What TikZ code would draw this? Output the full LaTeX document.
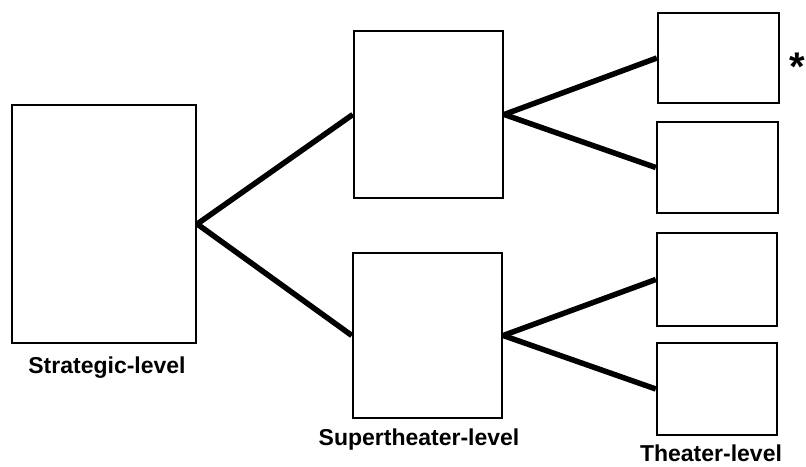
\documentclass[tikz,border=0pt]{standalone}
\usepackage{fontspec}
\setmainfont{Liberation Sans}
\begin{document}
\begin{tikzpicture}[x=1pt,y=-1pt,
  levelbox/.style={draw, line width=2.4pt, inner sep=0pt},
  link/.style={line width=5.5pt},
  levellabel/.style={anchor=base, inner sep=0pt, font=\fontsize{23}{25}\selectfont\bfseries}]
  \useasboundingbox (0,0) rectangle (806,466);

  % strategic level
  \node[levelbox, minimum width=184pt, minimum height=238pt] (strat) at (104,224) {};

  % supertheater level
  \node[levelbox, minimum width=149pt, minimum height=167pt] (supA) at (428.5,114.5) {};
  \node[levelbox, minimum width=149pt, minimum height=165pt] (supB) at (427.5,335.5) {};

  % theater level
  \node[levelbox, minimum width=121pt, minimum height=90pt] (thA) at (718.5,58) {};
  \node[levelbox, minimum width=121pt, minimum height=91pt] (thB) at (717.5,167.5) {};
  \node[levelbox, minimum width=120pt, minimum height=93pt] (thC) at (717,279.5) {};
  \node[levelbox, minimum width=120pt, minimum height=92pt] (thD) at (717,389) {};

  % connectors
  \draw[link] (strat.east) -- (supA.west);
  \draw[link] (strat.east) -- (supB.west);
  \draw[link] (supA.east) -- (thA.west);
  \draw[link] (supA.east) -- (thB.west);
  \draw[link] (supB.east) -- (thC.west);
  \draw[link] (supB.east) -- (thD.west);

  % labels
  \node[levellabel] (lstrat) at (107,373) {Strategic-level};
  \node[levellabel] (lsup) at (419,445) {Supertheater-level};
  \node[levellabel] (lth) at (711,461) {Theater-level};
  \node[anchor=base, inner sep=0pt, font=\fontsize{40}{42}\selectfont\bfseries] (star) at (797,80) {*};
\end{tikzpicture}
\end{document}
